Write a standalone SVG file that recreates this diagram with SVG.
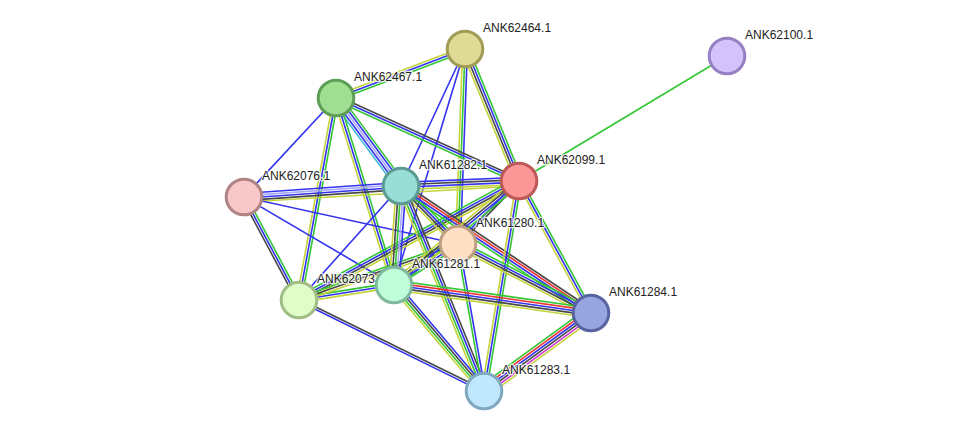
<svg xmlns="http://www.w3.org/2000/svg" width="975" height="436" viewBox="0 0 975 436">
<style>
.e line{stroke-width:1.6;fill:none;stroke-linecap:butt}
.g{stroke:#33c633}.b{stroke:#3333f0}.y{stroke:#c4d43a}.k{stroke:#484848}.r{stroke:#f03333}.m{stroke:#d038d0}.c{stroke:#3ab8d8}.l{stroke:#a8a8f8}
.n circle{stroke-width:3}
.n text{font-family:"Liberation Sans",Arial,sans-serif;font-size:12px;fill:#222;stroke:#fff;stroke-width:2.5;stroke-opacity:0.8;paint-order:stroke;stroke-linejoin:round}
</style>
<rect width="975" height="436" fill="#fff"/>
<g id="connectors" class="e">
<g transform="translate(336,98) rotate(-20.8)"><line class="y" x1="0" y1="-2.4" x2="138" y2="-2.4"/><line class="b" x1="0" y1="0" x2="138" y2="0"/><line class="g" x1="0" y1="2.4" x2="138" y2="2.4"/></g>
<g transform="translate(465,49) rotate(67.75)"><line class="g" x1="0" y1="-3.6" x2="142.6" y2="-3.6"/><line class="b" x1="0" y1="-1.2" x2="142.6" y2="-1.2"/><line class="k" x1="0" y1="1.2" x2="142.6" y2="1.2"/><line class="y" x1="0" y1="3.6" x2="142.6" y2="3.6"/></g>
<g transform="translate(465,49) rotate(115.04)"><line class="b" x1="0" y1="0" x2="151.2" y2="0"/></g>
<g transform="translate(465,49) rotate(106.74)"><line class="b" x1="0" y1="0" x2="246.4" y2="0"/></g>
<g transform="translate(465,49) rotate(92.06)"><line class="b" x1="0" y1="-2.4" x2="195.1" y2="-2.4"/><line class="g" x1="0" y1="0" x2="195.1" y2="0"/><line class="y" x1="0" y1="2.4" x2="195.1" y2="2.4"/></g>
<g transform="translate(336,98) rotate(24.4)"><line class="k" x1="0" y1="-2.4" x2="200.9" y2="-2.4"/><line class="b" x1="0" y1="0" x2="200.9" y2="0"/><line class="g" x1="0" y1="2.4" x2="200.9" y2="2.4"/></g>
<g transform="translate(336,98) rotate(132.9)"><line class="b" x1="0" y1="0" x2="135.1" y2="0"/></g>
<g transform="translate(336,98) rotate(53.55)"><line class="g" x1="0" y1="-4.8" x2="109.4" y2="-4.8"/><line class="b" x1="0" y1="-2.4" x2="109.4" y2="-2.4"/><line class="l" x1="0" y1="0" x2="109.4" y2="0"/><line class="b" x1="0" y1="2.4" x2="109.4" y2="2.4"/><line class="c" x1="0" y1="4.8" x2="109.4" y2="4.8"/></g>
<g transform="translate(336,98) rotate(100.38)"><line class="g" x1="0" y1="-2.4" x2="205.4" y2="-2.4"/><line class="b" x1="0" y1="0" x2="205.4" y2="0"/><line class="y" x1="0" y1="2.4" x2="205.4" y2="2.4"/></g>
<g transform="translate(336,98) rotate(72.77)"><line class="g" x1="0" y1="-2.4" x2="195.8" y2="-2.4"/><line class="b" x1="0" y1="0" x2="195.8" y2="0"/><line class="y" x1="0" y1="2.4" x2="195.8" y2="2.4"/></g>
<g transform="translate(244,197) rotate(-4.0)"><line class="b" x1="0" y1="-3.6" x2="157.4" y2="-3.6"/><line class="l" x1="0" y1="-1.2" x2="157.4" y2="-1.2"/><line class="b" x1="0" y1="1.2" x2="157.4" y2="1.2"/><line class="k" x1="0" y1="3.6" x2="157.4" y2="3.6"/></g>
<g transform="translate(244,197) rotate(-3.33)"><line class="y" x1="0" y1="5" x2="275.5" y2="5"/></g>
<g transform="translate(244,197) rotate(61.9)"><line class="g" x1="0" y1="-2.4" x2="116.8" y2="-2.4"/><line class="b" x1="0" y1="0" x2="116.8" y2="0"/><line class="k" x1="0" y1="2.4" x2="116.8" y2="2.4"/></g>
<g transform="translate(244,197) rotate(12.39)"><line class="b" x1="0" y1="0" x2="219.1" y2="0"/></g>
<g transform="translate(244,197) rotate(30.4)"><line class="b" x1="0" y1="0" x2="173.9" y2="0"/></g>
<g transform="translate(299,300) rotate(-48.2)"><line class="b" x1="0" y1="0" x2="153" y2="0"/></g>
<g transform="translate(299,300) rotate(-8.97)"><line class="g" x1="0" y1="-2.4" x2="96.2" y2="-2.4"/><line class="b" x1="0" y1="0" x2="96.2" y2="0"/><line class="y" x1="0" y1="2.4" x2="96.2" y2="2.4"/></g>
<g transform="translate(299,300) rotate(-28.4)"><line class="g" x1="0" y1="-3.6" x2="250.1" y2="-3.6"/><line class="b" x1="0" y1="-1.2" x2="250.1" y2="-1.2"/><line class="k" x1="0" y1="1.2" x2="250.1" y2="1.2"/><line class="y" x1="0" y1="3.6" x2="250.1" y2="3.6"/></g>
<g transform="translate(299,300) rotate(-19.4)"><line class="g" x1="0" y1="-2.4" x2="168.6" y2="-2.4"/><line class="k" x1="0" y1="0" x2="168.6" y2="0"/><line class="y" x1="0" y1="2.4" x2="168.6" y2="2.4"/></g>
<g transform="translate(299,300) rotate(26.2)"><line class="k" x1="0" y1="-1.2" x2="206.2" y2="-1.2"/><line class="b" x1="0" y1="1.2" x2="206.2" y2="1.2"/></g>
<g transform="translate(401,186) rotate(-2.43)"><line class="b" x1="0" y1="-3.6" x2="118.1" y2="-3.6"/><line class="k" x1="0" y1="-1.2" x2="118.1" y2="-1.2"/><line class="b" x1="0" y1="1.2" x2="118.1" y2="1.2"/><line class="y" x1="0" y1="3.6" x2="118.1" y2="3.6"/></g>
<g transform="translate(401,186) rotate(45.5)"><line class="g" x1="0" y1="-3.6" x2="81.3" y2="-3.6"/><line class="b" x1="0" y1="-1.2" x2="81.3" y2="-1.2"/><line class="k" x1="0" y1="1.2" x2="81.3" y2="1.2"/><line class="y" x1="0" y1="3.6" x2="81.3" y2="3.6"/></g>
<g transform="translate(401,186) rotate(94.0)"><line class="b" x1="0" y1="-4.8" x2="99.2" y2="-4.8"/><line class="l" x1="0" y1="-2.4" x2="99.2" y2="-2.4"/><line class="g" x1="0" y1="0" x2="99.2" y2="0"/><line class="k" x1="0" y1="2.4" x2="99.2" y2="2.4"/><line class="y" x1="0" y1="4.8" x2="99.2" y2="4.8"/></g>
<g transform="translate(401,186) rotate(67.96)"><line class="k" x1="0" y1="-3.6" x2="221.2" y2="-3.6"/><line class="b" x1="0" y1="-1.2" x2="221.2" y2="-1.2"/><line class="g" x1="0" y1="1.2" x2="221.2" y2="1.2"/><line class="y" x1="0" y1="3.6" x2="221.2" y2="3.6"/></g>
<g transform="translate(401,186) rotate(33.76)"><line class="k" x1="0" y1="-3.6" x2="228.5" y2="-3.6"/><line class="r" x1="0" y1="-1.2" x2="228.5" y2="-1.2"/><line class="b" x1="0" y1="1.2" x2="228.5" y2="1.2"/><line class="g" x1="0" y1="3.6" x2="228.5" y2="3.6"/></g>
<g transform="translate(519,181) rotate(-31.0)"><line class="g" x1="0" y1="0" x2="242.7" y2="0"/></g>
<g transform="translate(519,181) rotate(134.1)"><line class="k" x1="0" y1="-1.2" x2="87.7" y2="-1.2"/><line class="b" x1="0" y1="1.2" x2="87.7" y2="1.2"/></g>
<g transform="translate(519,181) rotate(140.24)"><line class="g" x1="0" y1="-3.6" x2="162.6" y2="-3.6"/><line class="b" x1="0" y1="-1.2" x2="162.6" y2="-1.2"/><line class="k" x1="0" y1="1.2" x2="162.6" y2="1.2"/><line class="y" x1="0" y1="3.6" x2="162.6" y2="3.6"/></g>
<g transform="translate(519,181) rotate(61.4)"><line class="g" x1="0" y1="-2.4" x2="150.4" y2="-2.4"/><line class="b" x1="0" y1="0" x2="150.4" y2="0"/><line class="y" x1="0" y1="2.4" x2="150.4" y2="2.4"/></g>
<g transform="translate(519,181) rotate(99.46)"><line class="g" x1="0" y1="-2.4" x2="212.9" y2="-2.4"/><line class="b" x1="0" y1="0" x2="212.9" y2="0"/><line class="y" x1="0" y1="2.4" x2="212.9" y2="2.4"/></g>
<g transform="translate(458,244) rotate(27.4)"><line class="g" x1="0" y1="-3.6" x2="149.8" y2="-3.6"/><line class="b" x1="0" y1="-1.2" x2="149.8" y2="-1.2"/><line class="k" x1="0" y1="1.2" x2="149.8" y2="1.2"/><line class="y" x1="0" y1="3.6" x2="149.8" y2="3.6"/></g>
<g transform="translate(458,244) rotate(79.97)"><line class="b" x1="0" y1="-1.2" x2="149.3" y2="-1.2"/><line class="g" x1="0" y1="1.2" x2="149.3" y2="1.2"/></g>
<g transform="translate(458,244) rotate(147.4)"><line class="g" x1="0" y1="-2.4" x2="76" y2="-2.4"/><line class="b" x1="0" y1="0" x2="76" y2="0"/><line class="y" x1="0" y1="2.4" x2="76" y2="2.4"/></g>
<g transform="translate(394,285) rotate(8.09)"><line class="g" x1="0" y1="-4.8" x2="199" y2="-4.8"/><line class="r" x1="0" y1="-2.4" x2="199" y2="-2.4"/><line class="b" x1="0" y1="0" x2="199" y2="0"/><line class="k" x1="0" y1="2.4" x2="199" y2="2.4"/><line class="y" x1="0" y1="4.8" x2="199" y2="4.8"/></g>
<g transform="translate(394,285) rotate(49.66)"><line class="b" x1="0" y1="-3.6" x2="139.1" y2="-3.6"/><line class="k" x1="0" y1="-1.2" x2="139.1" y2="-1.2"/><line class="g" x1="0" y1="1.2" x2="139.1" y2="1.2"/><line class="y" x1="0" y1="3.6" x2="139.1" y2="3.6"/></g>
<g transform="translate(484,391) rotate(-36.1)"><line class="g" x1="0" y1="-6" x2="132.4" y2="-6"/><line class="r" x1="0" y1="-3.6" x2="132.4" y2="-3.6"/><line class="b" x1="0" y1="-1.2" x2="132.4" y2="-1.2"/><line class="k" x1="0" y1="1.2" x2="132.4" y2="1.2"/><line class="m" x1="0" y1="3.6" x2="132.4" y2="3.6"/><line class="y" x1="0" y1="6" x2="132.4" y2="6"/></g>
</g>
<g id="ANK62464.1" class="n"><circle cx="465" cy="49" r="17.8" fill="#dfdb96" stroke="#a09c56"/><text x="483" y="32">ANK62464.1</text></g>
<g id="ANK62100.1" class="n"><circle cx="727" cy="56" r="17.8" fill="#d3c2fc" stroke="#9580c2"/><text x="745" y="39">ANK62100.1</text></g>
<g id="ANK62467.1" class="n"><circle cx="336" cy="98" r="17.8" fill="#a0de92" stroke="#5f9e56"/><text x="354" y="81">ANK62467.1</text></g>
<g id="ANK62099.1" class="n"><circle cx="519" cy="181" r="17.8" fill="#fc9797" stroke="#bc5858"/><text x="537" y="164">ANK62099.1</text></g>
<g id="ANK62076.1" class="n"><circle cx="244" cy="197" r="17.8" fill="#f8c8c8" stroke="#b08484"/><text x="262" y="180">ANK62076.1</text></g>
<g id="ANK61282.1" class="n"><circle cx="401" cy="186" r="17.8" fill="#99ded6" stroke="#5c9b93"/><text x="419" y="169">ANK61282.1</text></g>
<g id="ANK62073.1" class="n"><circle cx="299" cy="300" r="17.8" fill="#e0fdc8" stroke="#a0bd86"/><text x="317" y="283">ANK62073.1</text></g>
<g id="ANK61280.1" class="n"><circle cx="458" cy="244" r="17.8" fill="#fddfc4" stroke="#bd9f82"/><text x="476" y="227">ANK61280.1</text></g>
<g id="ANK61281.1" class="n"><circle cx="394" cy="285" r="17.8" fill="#c0fdda" stroke="#7fb89c"/><text x="412" y="268">ANK61281.1</text></g>
<g id="ANK61284.1" class="n"><circle cx="591" cy="313" r="17.8" fill="#97a4df" stroke="#5764a0"/><text x="609" y="296">ANK61284.1</text></g>
<g id="ANK61283.1" class="n"><circle cx="484" cy="391" r="17.8" fill="#c1e7fc" stroke="#80a8c0"/><text x="502" y="374">ANK61283.1</text></g>
</svg>
